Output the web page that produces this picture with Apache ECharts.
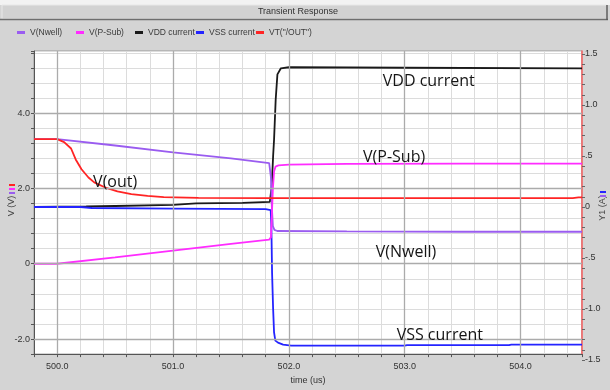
<!DOCTYPE html>
<html><head><meta charset="utf-8">
<script src="https://cdn.jsdelivr.net/npm/echarts@6/dist/echarts.min.js"></script>
<style>html,body{margin:0;padding:0;background:#d4d4d4;}#c{width:610px;height:390px;}</style>
</head><body><div id="c"></div>
<script>
// ---- data ----
const seriesNames = ['V(Nwell)', 'V(P-Sub)', 'VDD current', 'VSS current', 'VT("/OUT")'];

const nwellTime = [499.8, 500.0, 500.5, 501.0, 501.5, 501.83, 501.845, 501.853, 501.862, 501.875, 501.9, 502.5, 503.5, 504.53];
const nwellVolt = [3.31, 3.31, 3.14, 2.96, 2.80, 2.67, 2.3, 1.5, 1.0, 0.9, 0.87, 0.86, 0.85, 0.85];

const psubTime = [499.8, 500.0, 500.5, 501.0, 501.5, 501.83, 501.845, 501.853, 501.862, 501.872, 501.885, 501.91, 502.0, 502.5, 503.5, 504.53];
const psubVolt = [0, 0, 0.17, 0.35, 0.53, 0.64, 0.7, 1.3, 2.0, 2.45, 2.58, 2.61, 2.63, 2.65, 2.66, 2.66];

const outTime = [499.8, 500.0, 500.06, 500.12, 500.16, 500.21, 500.27, 500.32, 500.41, 500.52, 500.64, 500.78, 500.92, 501.22, 501.8, 502.5, 503.5, 504.45, 504.5, 504.53];
const outVolt = [3.31, 3.31, 3.23, 3.06, 2.77, 2.51, 2.29, 2.16, 2.03, 1.92, 1.85, 1.80, 1.77, 1.75, 1.74, 1.74, 1.74, 1.74, 1.76, 1.76];

const vddTime = [499.8, 500.25, 500.5, 501.0, 501.2, 501.6, 501.836, 501.851, 501.857, 501.864, 501.872, 501.886, 501.901, 501.931, 502.0, 503.0, 504.53];
const vddAmp  = [0.0, 0.005, 0.01, 0.02, 0.035, 0.04, 0.05, 0.2, 0.33, 0.5, 0.66, 1.05, 1.3, 1.36, 1.37, 1.365, 1.36];

const vssTime = [499.8, 500.2, 500.3, 501.0, 501.8, 501.843, 501.849, 501.855, 501.864, 501.872, 501.883, 501.906, 501.95, 502.02, 503.0, 503.02, 503.9, 503.92, 504.53];
const vssAmp  = [0.0, 0.0, -0.01, -0.015, -0.02, -0.03, -0.2, -0.65, -1.0, -1.23, -1.31, -1.33, -1.35, -1.36, -1.36, -1.355, -1.355, -1.35, -1.35];

const xMajorTicks = [500, 501, 502, 503, 504];
const yMajorTicks = [-2, 0, 2, 4];

// annotation anchors in (time, left-axis volts); text starts at the anchor
const annotations = [
  {text: 'VDD current', t: 502.81, v: 4.85},
  {text: 'V(P-Sub)', t: 502.64, v: 2.82},
  {text: 'V(out)', t: 500.31, v: 2.16},
  {text: 'V(Nwell)', t: 502.75, v: 0.30},
  {text: 'VSS current', t: 502.93, v: -1.91}
];

// ---- helpers ----
const zip = (a, b) => a.map((x, i) => [x, b[i]]);
const near = (v, step) => Math.abs(v / step - Math.round(v / step)) < 1e-6;
const FONT = 'Liberation Sans';
const colors = {nwell: '#9a5cf0', psub: '#ff2cff', vdd: '#1a1a1a', vss: '#2424ff', out: '#ff2424'};

const chart = echarts.init(document.getElementById('c'), null, {renderer: 'canvas'});

function lineSeries(name, data, color, xi, yi, z) {
  return {
    name, type: 'line', data, xAxisIndex: xi, yAxisIndex: yi, z,
    showSymbol: false, symbol: 'none', color,
    itemStyle: {color}, lineStyle: {color, width: 1.8}, silent: true
  };
}

// one legend per item so that each sits in a fixed-width slot like the reference
const legendSlotLeft = [12, 71, 130, 191, 251];
const legends = seriesNames.map((n, i) => ({
  data: [n], left: legendSlotLeft[i], top: 23, icon: 'rect', itemWidth: 8, itemHeight: 3,
  textStyle: {fontSize: 8.5, color: '#3a3a3a', fontFamily: FONT}
}));

const option = {
  animation: false,
  backgroundColor: '#d4d4d4',
  grid: [
    {left: 34, top: 51, width: 548, height: 312, show: true, backgroundColor: '#ffffff', borderColor: '#9a9a9a', borderWidth: 1},
    {left: 34, top: 54, width: 548, height: 306, show: false}
  ],
  legend: legends,
  xAxis: [
    {
      type: 'value', gridIndex: 0, min: 499.8, max: 504.53, interval: 0.2,
      axisLine: {show: true, onZero: false, lineStyle: {color: '#555', width: 1}},
      axisTick: {show: true, length: 3, lineStyle: {color: '#555'}},
      axisLabel: {fontSize: 9, color: '#333', fontFamily: FONT, margin: 8,
        formatter: v => near(v, 1) ? v.toFixed(1) : ''},
      splitLine: {show: true, lineStyle: {color: '#dcdcdc', width: 1}},
      name: 'time (us)', nameLocation: 'middle', nameGap: 20,
      nameTextStyle: {fontSize: 9, color: '#333', fontFamily: FONT}
    },
    {type: 'value', gridIndex: 1, min: 499.8, max: 504.53, show: false}
  ],
  yAxis: [
    {
      type: 'value', gridIndex: 0, min: -2.4, max: 5.65, interval: 0.4,
      axisLine: {show: true, onZero: false, lineStyle: {color: '#555', width: 1}},
      axisTick: {show: true, length: 3, lineStyle: {color: '#555'}},
      axisLabel: {fontSize: 9, color: '#333', fontFamily: FONT, margin: 4,
        formatter: v => near(v, 2) ? (Math.abs(v) < 1e-9 ? '0' : v.toFixed(1)) : ''},
      splitLine: {show: true, lineStyle: {color: '#dcdcdc', width: 1}}
    },
    {
      type: 'value', gridIndex: 0, position: 'right', min: 0, max: 1,
      axisLine: {show: true, onZero: false, lineStyle: {color: '#f05a5a', width: 1.5}},
      axisTick: {show: false}, axisLabel: {show: false}, splitLine: {show: false}
    },
    {
      type: 'value', gridIndex: 1, position: 'right', min: -1.5, max: 1.5, interval: 0.1,
      axisLine: {show: false},
      axisTick: {show: true, length: 3, lineStyle: {color: '#666'}},
      axisLabel: {fontSize: 9, color: '#333', fontFamily: FONT, margin: 3,
        formatter: v => {
          if (!near(v, 0.5)) return '';
          if (Math.abs(v) < 1e-9) return '0';
          if (Math.abs(Math.abs(v) - 0.5) < 1e-9) return (v < 0 ? '-' : '') + '.5';
          return v.toFixed(1);
        }},
      splitLine: {show: false}
    }
  ],
  series: [
    {
      type: 'line', xAxisIndex: 0, yAxisIndex: 0, data: [], z: 1, silent: true,
      markLine: {
        symbol: ['none', 'none'], silent: true, label: {show: false},
        lineStyle: {color: '#ababab', width: 1.3, type: 'solid'},
        emphasis: {disabled: true},
        data: xMajorTicks.map(v => ({xAxis: v})).concat(yMajorTicks.map(v => ({yAxis: v})))
      }
    },
    lineSeries('VDD current', zip(vddTime, vddAmp), colors.vdd, 1, 2, 3),
    lineSeries('VSS current', zip(vssTime, vssAmp), colors.vss, 1, 2, 3),
    lineSeries('V(Nwell)', zip(nwellTime, nwellVolt), colors.nwell, 0, 0, 3),
    lineSeries('V(P-Sub)', zip(psubTime, psubVolt), colors.psub, 0, 0, 3),
    lineSeries('VT("/OUT")', zip(outTime, outVolt), colors.out, 0, 0, 3)
  ]
};
chart.setOption(option);

// frame, title bar, axis names, annotations
const g = [
  {type: 'rect', shape: {x: 0, y: 0, width: 610, height: 5}, style: {fill: '#f2f2f2'}, z: 0},
  {type: 'rect', shape: {x: 2, y: 5, width: 605, height: 14}, style: {fill: '#d2d2d2', stroke: '#e8e8e8', lineWidth: 1}, z: 1},
  {type: 'line', shape: {x1: 0, y1: 19.5, x2: 608, y2: 19.5}, style: {stroke: '#6e6e6e', lineWidth: 1.5}, z: 2},
  {type: 'line', shape: {x1: 607, y1: 5, x2: 607, y2: 20}, style: {stroke: '#5a5a5a', lineWidth: 1.5}, z: 2},
  {type: 'text', x: 298, y: 12, style: {text: 'Transient Response', fontSize: 9, fontFamily: FONT, fill: '#333', align: 'center', verticalAlign: 'middle'}, z: 3},
  // left axis name
  {type: 'text', x: 12, y: 206, rotation: Math.PI / 2, style: {text: 'V (V)', fontSize: 9, fontFamily: FONT, fill: '#444', align: 'center', verticalAlign: 'middle'}, z: 3},
  {type: 'rect', shape: {x: 9, y: 184, width: 6, height: 2}, style: {fill: colors.out}, z: 3},
  {type: 'rect', shape: {x: 9, y: 188, width: 6, height: 2}, style: {fill: colors.psub}, z: 3},
  {type: 'rect', shape: {x: 9, y: 192, width: 6, height: 2}, style: {fill: colors.nwell}, z: 3},
  // right axis name
  {type: 'text', x: 603, y: 208, rotation: Math.PI / 2, style: {text: 'Y1 (A)', fontSize: 9, fontFamily: FONT, fill: '#444', align: 'center', verticalAlign: 'middle'}, z: 3},
  {type: 'rect', shape: {x: 600, y: 191, width: 6, height: 2}, style: {fill: colors.vss}, z: 3},
  {type: 'rect', shape: {x: 600, y: 195, width: 6, height: 2}, style: {fill: colors.nwell}, z: 3}
];
annotations.forEach(a => {
  const p = chart.convertToPixel({gridIndex: 0}, [a.t, a.v]);
  g.push({type: 'text', x: p[0], y: p[1], style: {text: a.text, fontSize: 16, fontFamily: 'Open Sans', fill: '#151515', align: 'left', verticalAlign: 'middle'}, z: 10});
});
chart.setOption({graphic: g});
</script>
</body></html>
